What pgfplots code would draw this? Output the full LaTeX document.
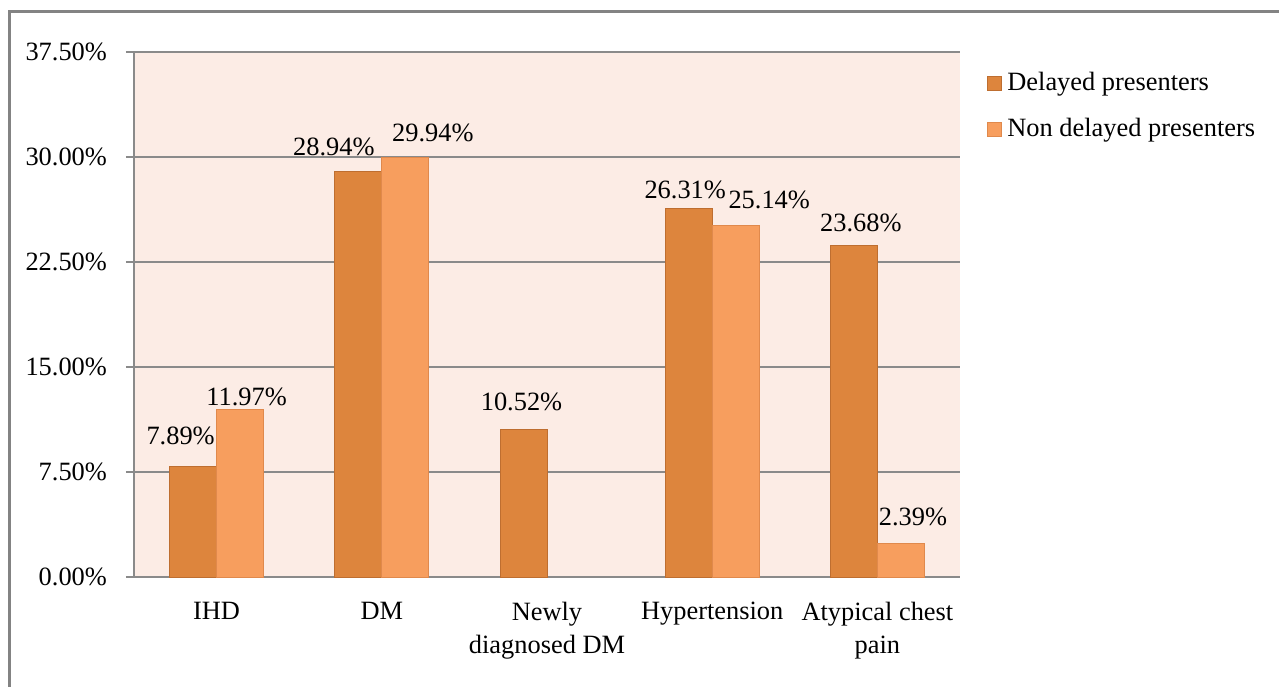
\documentclass[border=0pt]{standalone}
\usepackage{pgfplots}
\pgfplotsset{compat=1.18}
\usepackage{pgfplotstable}
\usepackage{fontspec}
\setmainfont{Liberation Serif}
\definecolor{darkbar}{HTML}{DD853D}
\definecolor{darkedge}{HTML}{BE6E30}
\definecolor{lightbar}{HTML}{F79E5E}
\definecolor{lightedge}{HTML}{E0894C}
\definecolor{plotbg}{HTML}{FCECE5}
\definecolor{gridc}{HTML}{8A8A8A}

% dx: label centre offset from the category centre (pt); dy: gap above bar (pt)
\pgfplotstableread{
x y dx dy
0 7.89 -18 10.5
1 28.94 -24 7.5
2 10.52 -12.75 9
3 26.31 -13.5 4.5
4 23.68 -8.25 6.5
}\darktab
\pgfplotstableread{
x y dx dy
0 11.97 15 1.5
1 29.94 25.5 7.5
3 25.14 28.5 8
4 2.39 17.75 8.5
}\lighttab

\begin{document}
\begin{tikzpicture}[font=\fontsize{13.2pt}{16.5pt}\selectfont]
\useasboundingbox (-67pt,-54.5pt) rectangle (572.5pt,288.5pt);
\begin{axis}[
  at={(0,0)}, anchor=south west,
  scale only axis,
  width=413pt, height=262.5pt,
  xmin=-0.5, xmax=4.5,
  ymin=0, ymax=37.5,
  axis x line*=bottom,
  axis y line*=left,
  axis line style={gridc, line width=0.9pt},
  axis background/.style={fill=plotbg},
  ytick={0,7.5,15,22.5,30,37.5},
  yticklabel={\pgfmathprintnumber[fixed,fixed zerofill,precision=2]{\tick}\%},
  /pgf/number format/assume math mode=true,
  ymajorgrids,
  major grid style={gridc, line width=0.9pt},
  tick align=outside,
  major tick length=4pt,
  minor tick length=3.5pt,
  ytick style={gridc, line width=0.9pt},
  xtick={0,1,2,3,4},
  xtick style={draw=none},
  minor xtick={-0.5,0.5,1.5,2.5,3.5,4.5},
  minor tick style={gridc, line width=0.9pt, draw=gridc},
  xticklabels={IHD, DM, {Newly\\diagnosed DM}, Hypertension, {Atypical chest\\pain}},
  xticklabel style={align=center, anchor=north, yshift=-5pt},
  yticklabel style={anchor=east, xshift=-6pt},
  bar width=0.2845,
  legend style={at={(1.0254,0.969)}, anchor=north west, draw=none, fill=none,
    row sep=12pt, font=\fontsize{13.2pt}{16.5pt}\selectfont,
    nodes={inner sep=0pt, anchor=base west},
    /tikz/every odd column/.append style={column sep=2.5pt}},
  legend cell align=left,
  legend image code/.code={\draw[#1, line width=0.5pt] (0pt,0pt) rectangle (7pt,7pt);},
  nodes near coords={\kern\labdx pt\kern\labdx pt\pgfmathprintnumber[fixed,fixed zerofill,precision=2]{\pgfplotspointmeta}\%},
  visualization depends on={\thisrow{dx} \as \labdx},
  visualization depends on={\thisrow{dy} \as \labdy},
  every node near coord/.append style={anchor=south, inner sep=0pt, yshift=\labdy pt, text=black},
]
\addplot[ybar, bar shift=-0.14225, fill=darkbar, draw=darkedge, line width=0.5pt] table[x=x, y=y] {\darktab};
\addlegendentry{Delayed presenters}
\addplot[ybar, bar shift=0.14225, fill=lightbar, draw=lightedge, line width=0.5pt] table[x=x, y=y] {\lighttab};
\addlegendentry{Non delayed presenters}
\end{axis}
\draw[color=gridc!95!black, line width=1.5pt] (-62.25pt,-80pt) -- (-62.25pt,282.5pt) -- (600pt,282.5pt);
\end{tikzpicture}
\end{document}
